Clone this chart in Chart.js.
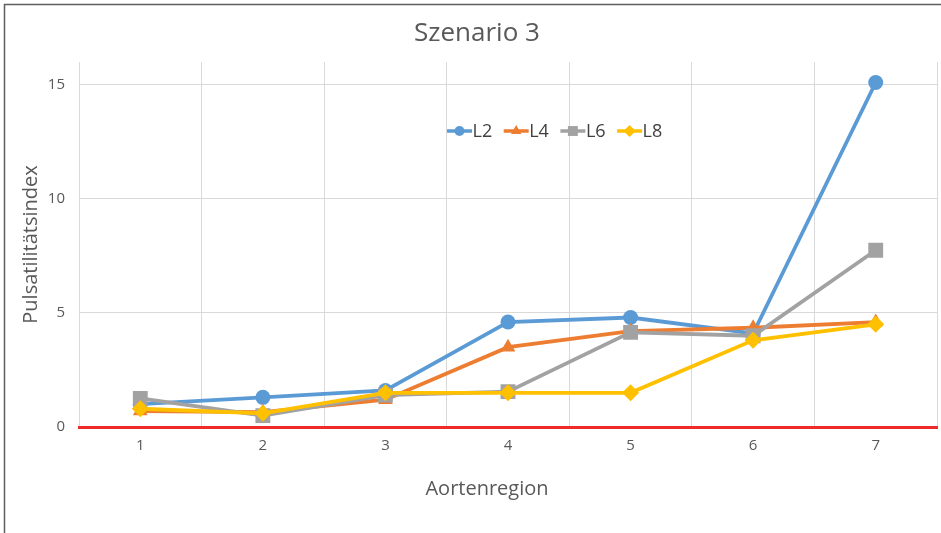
<!DOCTYPE html>
<html>
<head>
<meta charset="utf-8">
<script src="https://cdn.jsdelivr.net/npm/chart.js@4"></script>
<style>
  html, body { margin: 0; padding: 0; background: #fff; overflow: hidden; }
  canvas { display: block; }
</style>
</head>
<body>
<canvas id="c" width="941" height="533"></canvas>
<script>
// regions on the x axis
const regions = ['1', '2', '3', '4', '5', '6', '7'];

// pulsatility index per series
const L2 = [1.0, 1.3, 1.6, 4.6, 4.8, 4.1, 15.1];
const L4 = [0.7, 0.65, 1.2, 3.5, 4.2, 4.35, 4.6];
const L6 = [1.25, 0.5, 1.4, 1.55, 4.15, 4.0, 7.75];
const L8 = [0.8, 0.6, 1.5, 1.5, 1.5, 3.8, 4.5];

const xTitle = 'Aortenregion';

const FONT = "'Open Sans', 'Noto Sans', sans-serif";
const TXT = '#595959';

function series(label, data, color, style, radius, order) {
  return {
    label, data, order,
    borderColor: color, backgroundColor: color,
    borderWidth: 3.8,
    pointStyle: style, pointRadius: radius,
    pointBorderWidth: 0, pointHoverRadius: radius,
    tension: 0
  };
}

// frame around the chart (only top/left visible in the picture)
const frame = {
  id: 'frame',
  afterDraw(chart) {
    const ctx = chart.ctx;
    ctx.save();
    ctx.strokeStyle = '#5f5f5f';
    ctx.lineWidth = 1.5;
    ctx.beginPath();
    ctx.moveTo(4.5, 533);
    ctx.lineTo(4.5, 4.5);
    ctx.lineTo(941, 4.5);
    ctx.stroke();
    ctx.restore();
  }
};

// title in excel is a bit right of centre
const shiftTitle = {
  id: 'shiftTitle',
  afterLayout(chart) {
    if (chart.titleBlock) {
      chart.titleBlock.left += 8.5;
      chart.titleBlock.right += 8.5;
    }
  }
};

// x axis title, placed where the original has it
const xAxisTitle = {
  id: 'xAxisTitle',
  afterDraw(chart) {
    const ctx = chart.ctx;
    ctx.save();
    ctx.font = '20px ' + FONT;
    ctx.fillStyle = TXT;
    ctx.textAlign = 'center';
    ctx.textBaseline = 'alphabetic';
    ctx.fillText(xTitle, 487, 495);
    ctx.restore();
  }
};

// legend sitting inside the plot, like the Excel original
const innerLegend = {
  id: 'innerLegend',
  afterDraw(chart) {
    const ctx = chart.ctx;
    let x = 447;
    const y = 131;
    const sizes = { circle: 5, triangle: 6, rect: 7, rectRot: 6 };
    ctx.save();
    ctx.font = '18px ' + FONT;
    ctx.textBaseline = 'middle';
    chart.data.datasets.forEach(ds => {
      ctx.strokeStyle = ds.borderColor;
      ctx.fillStyle = ds.borderColor;
      ctx.lineWidth = 3.5;
      ctx.beginPath();
      ctx.moveTo(x, y);
      ctx.lineTo(x + 25, y);
      ctx.stroke();
      Chart.helpers.drawPoint(ctx, {pointStyle: ds.pointStyle, radius: sizes[ds.pointStyle], borderWidth: 0, rotation: 0}, x + 12.5, y);
      ctx.fillStyle = '#404040';
      ctx.fillText(ds.label, x + 25.5, y + 1);
      x += 25.5 + ctx.measureText(ds.label).width + 11.5;
    });
    ctx.restore();
  }
};

new Chart(document.getElementById('c'), {
  type: 'line',
  data: {
    labels: regions,
    datasets: [
      series('L2', L2, '#5b9bd5', 'circle', 7.5, 3),
      series('L4', L4, '#ed7d31', 'triangle', 8.5, 2),
      series('L6', L6, '#a2a2a2', 'rect', 10.5, 1),
      series('L8', L8, '#ffc000', 'rectRot', 8.5, 0)
    ]
  },
  options: {
    responsive: false,
    animation: false,
    layout: { autoPadding: false, padding: { left: 0, right: 4, top: 0, bottom: 0 } },
    plugins: {
      legend: { display: false },
      tooltip: { enabled: false },
      title: {
        display: true,
        text: 'Szenario 3',
        color: TXT,
        font: { family: FONT, size: 26, weight: 'normal' },
        padding: { top: 18.4, bottom: 12.4 }
      }
    },
    scales: {
      x: {
        offset: true,
        grid: { color: '#d9d9d9', lineWidth: 1, drawTicks: false, offset: true },
        border: { display: true, color: '#ee2a2a', width: 3 },
        ticks: { color: TXT, font: { family: FONT, size: 15 }, padding: 10 },
        title: { display: false },
        afterFit(s) { s.height = 106; }
      },
      y: {
        min: 0, max: 16,
        grid: { color: '#d9d9d9', lineWidth: 1, drawTicks: false },
        border: { display: false },
        ticks: { stepSize: 5, includeBounds: false, color: TXT, font: { family: FONT, size: 15 }, padding: 14 },
        title: {
          display: true, text: 'Pulsatilitätsindex', color: TXT,
          font: { family: FONT, size: 20 },
          padding: { top: 19.5, bottom: 0 }
        },
        afterFit(s) { s.width = 79; }
      }
    }
  },
  plugins: [innerLegend, xAxisTitle, shiftTitle, frame]
});
</script>
</body>
</html>
